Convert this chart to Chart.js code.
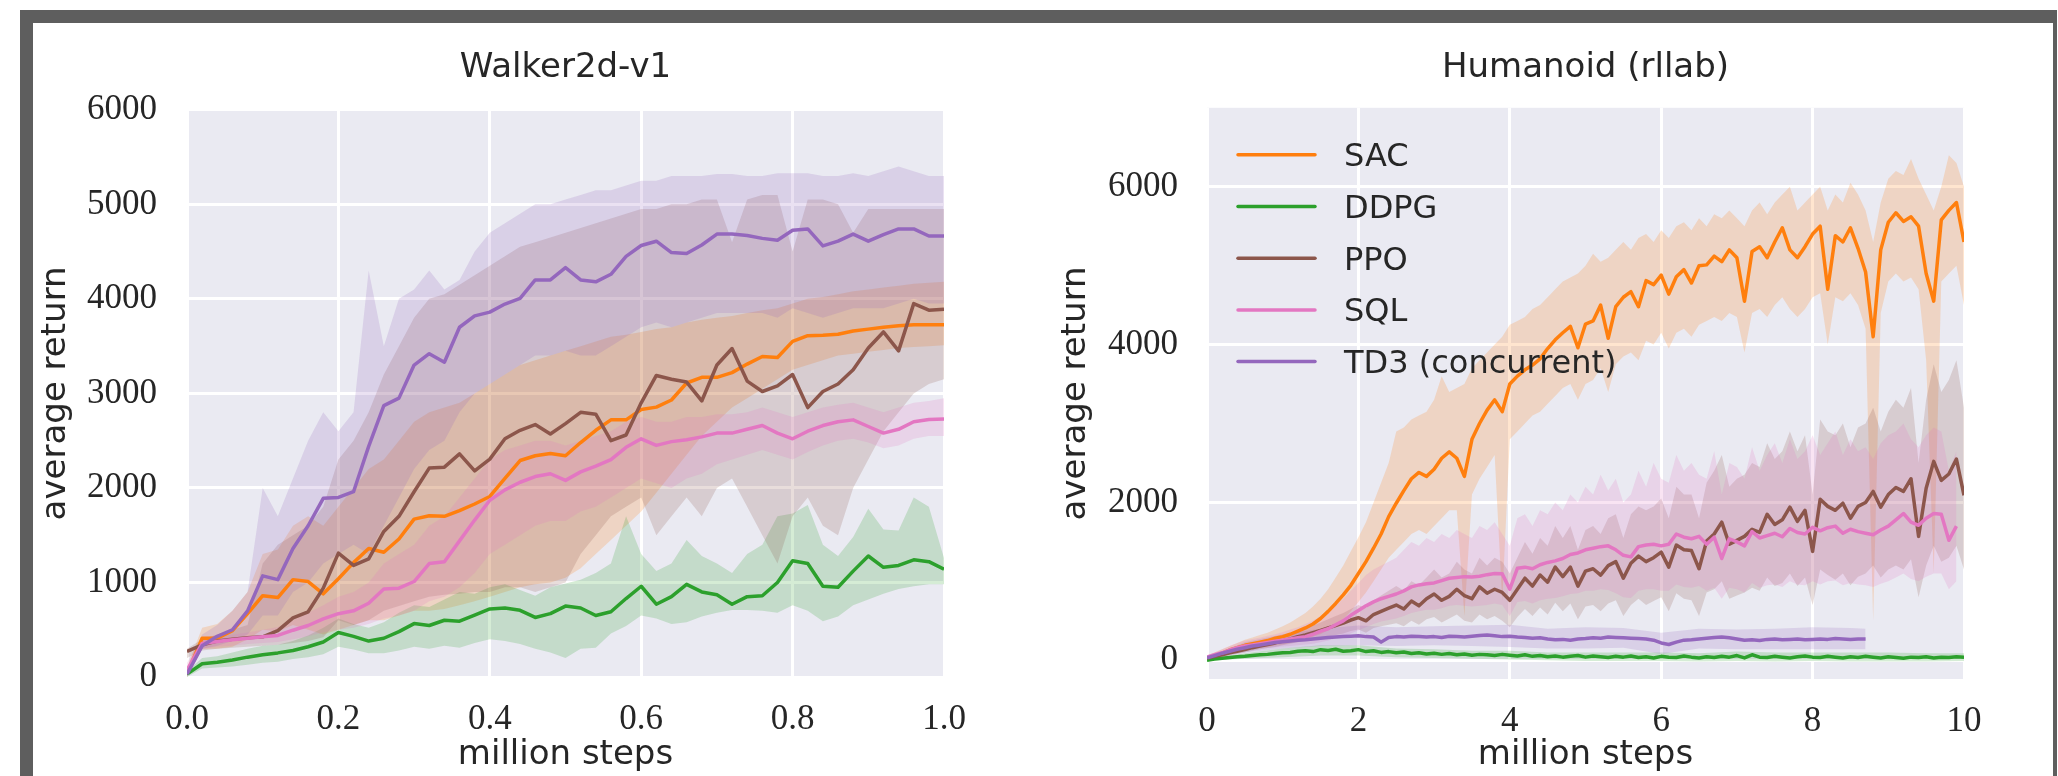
<!DOCTYPE html>
<html>
<head>
<meta charset="utf-8">
<script src="https://cdn.jsdelivr.net/npm/chart.js@4.4.0/dist/chart.umd.min.js"></script>
<style>
  body { margin: 0; background: #fff; width: 2058px; height: 776px; overflow: hidden; position: relative; }
  #frame { position: absolute; left: 20px; top: 10px; width: 2020px; height: 800px;
           border-left: 13px solid #5e5e5e; border-top: 13px solid #5e5e5e; border-right: 4px solid #5e5e5e; }
  .box { position: absolute; top: 23px; height: 753px; }
</style>
</head>
<body>
<div id="frame"></div>
<div class="box" style="left:33px;width:997px"><canvas id="walker"></canvas></div>
<div class="box" style="left:1030px;width:1023px"><canvas id="humanoid"></canvas></div>
<script>
// ---- Walker2d-v1 (million steps) ----
const walkerSteps = [0,0.02,0.04,0.06,0.08,0.1,0.12,0.14,0.16,0.18,0.2,0.22,0.24,0.26,0.28,0.3,0.32,0.34,0.36,0.38,0.4,0.42,0.44,0.46,0.48,0.5,0.52,0.54,0.56,0.58,0.6,0.62,0.64,0.66,0.68,0.7,0.72,0.74,0.76,0.78,0.8,0.82,0.84,0.86,0.88,0.9,0.92,0.94,0.96,0.98,1.0];
const walkerXTicks = [0, 0.2, 0.4, 0.6, 0.8, 1.0];
const walkerYTicks = [0, 1000, 2000, 3000, 4000, 5000, 6000];

const walkerSAC   = [30,410,410,490,670,860,840,1030,1010,880,1040,1210,1360,1320,1460,1670,1705,1700,1760,1830,1910,2100,2290,2340,2365,2340,2480,2610,2720,2720,2830,2855,2930,3110,3170,3170,3220,3310,3390,3380,3550,3610,3615,3625,3660,3680,3700,3715,3725,3725,3725];
const walkerSACHi = [100,520,560,700,900,1300,1350,1600,1700,1600,1800,2000,2200,2300,2500,2700,2800,2850,2900,3000,3100,3200,3300,3350,3400,3450,3500,3550,3600,3620,3650,3680,3700,3750,3780,3800,3820,3850,3880,3900,3950,4000,4020,4050,4080,4100,4120,4140,4160,4170,4180];
const walkerSACLo = [0,300,300,320,400,500,480,550,500,450,500,550,600,600,650,700,700,720,760,800,850,900,950,980,1000,1050,1150,1300,1450,1600,1750,1950,2150,2350,2550,2700,2850,2950,3050,3150,3250,3300,3350,3400,3420,3440,3460,3480,3490,3500,3510];

const walkerDDPG   = [30,140,155,180,210,235,255,280,320,370,470,430,380,410,480,565,545,600,590,655,720,730,705,630,670,750,730,650,690,830,960,770,850,980,900,870,770,850,860,1000,1230,1200,960,950,1120,1280,1160,1180,1240,1220,1140];
const walkerDDPGHi = [60,200,220,260,300,330,340,380,440,520,620,560,520,580,680,760,740,820,900,880,950,980,920,860,950,990,1030,1100,1200,1700,1300,1120,1200,1450,1280,1200,1100,1300,1400,1700,1730,1820,1400,1280,1480,1780,1560,1550,1900,1800,1260];
const walkerDDPGLo = [0,90,100,110,130,150,160,190,210,240,320,290,250,250,280,320,300,330,310,360,400,380,350,300,260,200,300,310,460,540,650,620,560,580,640,680,710,710,700,680,760,700,590,640,760,820,880,930,960,980,980];

const walkerPPO   = [270,340,380,400,415,425,490,625,690,940,1310,1180,1250,1540,1700,1960,2210,2220,2360,2180,2305,2520,2610,2670,2570,2680,2800,2780,2500,2560,2900,3190,3150,3120,2920,3300,3475,3130,3020,3080,3200,2850,3020,3100,3250,3480,3650,3450,3950,3880,3890];
const walkerPPOHi = [300,400,450,500,550,1200,1400,1500,1600,1800,2300,2500,2800,3200,3500,3800,4000,4050,4150,4250,4350,4450,4550,4600,4650,4700,4750,4800,4850,4900,4950,4950,5000,5000,5050,5050,4600,5050,5100,5100,4500,5050,5050,5000,4700,4950,4950,4950,4950,4950,4950];
const walkerPPOLo = [200,280,300,310,320,330,340,360,380,420,600,550,600,700,750,800,850,870,880,900,900,950,950,900,950,1000,1300,1500,1700,1800,1900,1500,1700,1900,1700,2000,2100,1800,1500,1200,1700,1900,1600,1500,2000,2300,2600,2800,3000,3100,3150];

const walkerSQL   = [70,355,375,395,410,425,440,495,545,615,670,700,780,930,940,1010,1200,1220,1440,1660,1870,1980,2060,2120,2150,2080,2170,2230,2300,2430,2520,2450,2490,2510,2540,2580,2580,2620,2660,2580,2520,2600,2660,2700,2720,2650,2580,2620,2700,2725,2730];
const walkerSQLHi = [150,420,440,450,470,500,530,600,680,760,850,900,1000,1200,1300,1400,1600,1700,1900,2100,2300,2400,2450,2500,2500,2450,2500,2550,2600,2700,2750,2700,2700,2750,2750,2780,2780,2800,2850,2800,2750,2800,2850,2880,2900,2850,2800,2850,2900,2920,2950];
const walkerSQLLo = [0,300,320,330,350,360,370,400,430,470,500,520,560,620,650,700,800,850,950,1100,1300,1400,1500,1600,1650,1650,1750,1800,1900,2000,2100,2050,2000,2100,2150,2250,2300,2350,2400,2350,2300,2380,2450,2500,2520,2480,2420,2450,2520,2550,2550];

const walkerTD3   = [30,330,430,500,700,1070,1030,1360,1600,1890,1900,1960,2440,2870,2950,3300,3420,3330,3700,3820,3860,3945,4005,4200,4200,4330,4200,4180,4260,4450,4565,4610,4490,4480,4570,4685,4685,4670,4640,4620,4725,4740,4560,4610,4685,4610,4680,4740,4740,4665,4665];
const walkerTD3Hi = [100,450,550,700,900,2000,1700,2100,2500,2800,2600,2800,4300,3500,4000,4100,4300,4100,4200,4500,4700,4800,4900,5000,5000,5050,5100,5150,5150,5200,5250,5250,5300,5300,5300,5320,5320,5300,5300,5330,5330,5330,5300,5300,5330,5300,5350,5400,5350,5300,5300];
const walkerTD3Lo = [0,300,330,380,450,650,650,900,1000,1200,1300,1400,1300,1600,1900,2200,2400,2500,2800,3000,3100,3200,3300,3400,3400,3450,3400,3400,3500,3600,3700,3750,3700,3750,3800,3850,3850,3850,3850,3800,3900,3850,3800,3850,3900,3900,3900,3950,4000,3950,3950];

// ---- Humanoid (rllab) (million steps) ----
const humanoidSteps = [0,0.1,0.2,0.3,0.4,0.5,0.6,0.7,0.8,0.9,1,1.1,1.2,1.3,1.4,1.5,1.6,1.7,1.8,1.9,2,2.1,2.2,2.3,2.4,2.5,2.6,2.7,2.8,2.9,3,3.1,3.2,3.3,3.4,3.5,3.6,3.7,3.8,3.9,4,4.1,4.2,4.3,4.4,4.5,4.6,4.7,4.8,4.9,5,5.1,5.2,5.3,5.4,5.5,5.6,5.7,5.8,5.9,6,6.1,6.2,6.3,6.4,6.5,6.6,6.7,6.8,6.9,7,7.1,7.2,7.3,7.4,7.5,7.6,7.7,7.8,7.9,8,8.1,8.2,8.3,8.4,8.5,8.6,8.7,8.8,8.9,9,9.1,9.2,9.3,9.4,9.5,9.6,9.7,9.8,9.9,10];
const humanoidXTicks = [0, 2, 4, 6, 8, 10];
const humanoidYTicks = [0, 2000, 4000, 6000];

const humanoidSAC = [30,60,90,130,160,190,210,230,250,280,300,330,370,410,460,530,620,720,830,950,1100,1250,1420,1600,1820,1990,2150,2300,2380,2330,2420,2560,2640,2560,2330,2800,3000,3170,3300,3150,3500,3600,3680,3740,3820,3950,4060,4150,4230,3960,4260,4300,4500,4080,4480,4600,4670,4480,4810,4760,4880,4640,4860,4950,4780,5000,5010,5120,5050,5200,5100,4550,5180,5240,5100,5300,5480,5200,5100,5240,5400,5500,4700,5380,5300,5480,5220,4920,4100,5200,5550,5670,5560,5620,5500,4900,4550,5580,5700,5800,5300];
const humanoidSACHi = [60,100,140,180,220,260,290,320,350,390,430,480,540,600,680,780,900,1050,1200,1380,1560,1750,2000,2250,2500,2900,2950,3050,3100,3150,3300,3600,3400,3450,3500,3700,3800,3900,4000,4100,4250,4300,4350,4450,4500,4600,4700,4800,4850,4900,5000,5150,5050,5100,5200,5300,5200,5350,5400,5300,5450,5350,5500,5550,5450,5600,5500,5650,5600,5700,5600,5500,5700,5800,5650,5800,5900,6000,5700,5800,5900,6000,5700,5900,5800,6050,5900,5700,5300,5800,6100,6200,6150,6350,6100,5900,5700,6000,6400,6300,6000];
const humanoidSACLo = [0,30,60,90,110,130,150,160,170,190,200,220,240,270,300,330,380,440,520,620,740,860,1000,1150,1300,1400,1500,1600,1650,1600,1700,1800,1900,1900,560,2100,2300,2450,2600,750,2800,2900,3000,3100,3150,3250,3350,3450,3500,3300,3500,3550,3700,3400,3750,3850,3900,3800,4050,4000,4150,3950,4150,4200,4100,4250,4300,4350,4300,4400,4350,3900,4400,4450,4350,4500,4600,4450,4350,4450,4600,4650,4000,4600,4550,4650,4500,4200,500,4400,4800,4900,4800,4850,4700,3800,1100,4800,4900,5000,4500];

const humanoidDDPG = [0,15,25,35,45,50,60,70,75,85,95,100,115,120,110,135,125,140,115,120,135,110,120,100,110,95,105,85,95,80,90,75,85,70,80,65,75,70,60,75,65,55,70,50,60,45,55,40,50,60,40,55,45,35,50,40,55,35,45,30,50,40,35,55,40,30,45,35,50,40,60,30,70,40,35,50,40,30,45,55,40,35,50,40,30,45,35,50,40,30,45,35,25,40,35,45,30,40,35,45,40];
const ddpgBandSteps = [0,0.5,1,1.5,2,2.5,3,3.5,4,4.5,5,5.5,6,6.5,7,7.5,8,8.5,9,9.5,10];
const humanoidDDPGHi = [10,90,150,190,190,150,140,120,120,100,100,100,100,90,110,100,100,100,100,90,90];
const humanoidDDPGLo = [-5,20,40,60,60,40,30,20,10,0,-10,-10,-10,-15,-10,-15,-10,-15,-15,-15,-10];

const humanoidPPO = [30,50,70,95,115,135,160,180,200,220,245,270,300,320,350,380,410,440,470,510,540,500,580,620,660,700,650,750,690,780,840,760,810,900,820,780,930,850,900,860,760,900,1040,940,1080,990,1180,1060,1180,940,1130,1160,1080,1200,1250,1040,1230,1320,1250,1300,1370,1180,1460,1400,1390,1160,1510,1600,1750,1470,1520,1570,1660,1620,1850,1720,1780,1940,1760,1900,1380,2040,1950,1900,1990,1800,1950,2000,2140,1940,2100,2190,2140,2300,1570,2180,2520,2280,2360,2550,2090];
const humanoidPPOHi = [50,80,100,130,150,170,200,220,250,270,300,330,370,400,440,480,520,560,600,650,700,660,760,820,880,940,880,1000,950,1050,1150,1050,1100,1250,1150,1100,1300,1200,1300,1250,1100,1300,1500,1350,1550,1450,1700,1550,1700,1400,1650,1700,1600,1800,1850,1550,1850,1950,1900,1950,2050,1800,2200,2100,2100,1800,2250,2400,2600,2200,2300,2350,2500,2450,2750,2550,2650,2900,2650,2850,2100,3050,2900,2850,3000,2700,2950,3000,3200,2900,3150,3300,3200,3450,2500,3300,3750,3400,3550,3800,3200];
const humanoidPPOLo = [15,25,40,60,80,100,120,140,155,170,190,210,230,245,265,285,300,320,340,370,390,350,410,430,450,470,430,500,450,520,550,480,530,580,500,480,580,520,560,500,420,550,650,560,670,580,730,620,720,520,680,700,620,720,760,560,700,780,700,750,800,620,850,780,760,560,860,900,1000,780,820,860,920,880,1050,940,980,1100,940,1050,700,1150,1080,1020,1100,950,1060,1100,1200,1050,1150,1200,1150,1280,800,1200,1450,1250,1300,1450,1150];

const humanoidSQL = [40,70,95,130,160,180,195,210,225,240,255,270,285,300,330,370,400,450,500,570,630,690,740,780,810,840,880,930,955,970,980,1010,1040,1050,1060,1055,1065,1085,1100,1095,900,1165,1180,1160,1210,1240,1260,1290,1340,1360,1400,1420,1440,1450,1400,1330,1310,1440,1460,1470,1450,1470,1600,1560,1540,1570,1470,1560,1290,1540,1500,1450,1630,1550,1580,1610,1565,1670,1620,1600,1685,1640,1680,1700,1610,1660,1630,1610,1590,1650,1700,1780,1860,1750,1710,1800,1860,1850,1520,1700];
const humanoidSQLHi = [60,100,140,180,220,250,270,290,310,330,360,390,420,460,500,560,620,700,780,880,980,1080,1150,1200,1250,1300,1400,1500,1450,1550,1500,1600,1550,1650,1600,1550,1700,1650,1750,1600,1450,1800,1850,1700,1900,1850,2000,1900,2100,2000,2200,2100,2350,2150,2300,2000,2100,2400,2200,2500,2300,2250,2600,2400,2500,2350,2300,2650,2100,2500,2450,2300,2700,2400,2600,2750,2500,2800,2550,2650,2850,2600,2750,2900,2600,2800,2650,2700,2550,2750,2850,2900,3000,2800,2700,2850,2950,2900,2400,2650];
const humanoidSQLLo = [20,45,65,90,110,125,135,145,155,165,175,180,190,200,210,230,250,280,300,340,380,420,460,490,510,530,560,600,620,640,640,660,690,700,690,680,690,700,720,700,560,740,750,720,760,780,790,810,840,850,880,880,900,890,850,800,790,880,900,900,880,880,960,930,920,940,880,920,780,920,900,860,980,920,950,960,930,1000,960,950,1000,960,1000,1010,950,980,960,950,930,970,1000,1050,1100,1030,1000,1060,1100,1100,900,1000];

const humanoidTD3 = [30,60,90,115,140,160,180,195,210,225,235,245,255,260,270,280,290,295,300,305,310,300,295,230,290,300,295,305,300,295,300,290,305,300,295,305,315,320,310,300,305,295,290,280,285,270,260,265,255,270,275,285,280,295,290,285,280,275,270,255,220,200,230,255,260,270,280,290,295,285,270,255,260,250,265,270,260,265,270,260,265,270,265,275,270,265,270,270];
const td3BandSteps = [0,0.5,1,1.5,2,2.5,3,3.5,4,4.5,5,5.5,6,6.5,7,7.5,8,8.5,8.7];
const humanoidTD3Hi = [40,230,330,400,440,420,430,440,450,400,420,410,350,400,390,400,420,410,400];
const humanoidTD3Lo = [20,100,150,180,190,180,190,180,170,150,150,160,80,150,140,140,140,140,140];

const legendNames = { SAC: 'SAC', DDPG: 'DDPG', PPO: 'PPO', SQL: 'SQL', TD3: 'TD3 (concurrent)' };

const ink = '#262626';
const tickFont = { family: "'Liberation Serif', serif", size: 35 };
const labelFont = { family: "'DejaVu Sans', sans-serif", size: 34, weight: 'normal' };
const colors = { SAC: '255,127,14', DDPG: '44,160,44', PPO: '140,86,75', SQL: '227,119,194', TD3: '148,103,189' };

const pts = (xs, ys) => ys.map((y, i) => ({ x: xs[i], y }));

function line(name, xs, ys, order) {
  return { label: legendNames[name], data: pts(xs, ys), borderColor: 'rgb(' + colors[name] + ')', borderWidth: 3.5,
           pointRadius: 0, fill: false, tension: 0, borderJoinStyle: 'round', order };
}

function band(name, xs, hi, lo, order) {
  return [
    { band: true, data: pts(xs, hi), borderWidth: 0, pointRadius: 0, tension: 0,
      backgroundColor: 'rgba(' + colors[name] + ',0.2)', fill: '+1', order },
    { band: true, data: pts(xs, lo), borderWidth: 0, pointRadius: 0, tension: 0, fill: false, order }
  ];
}

const plotBg = {
  id: 'plotBg',
  beforeDraw(chart) {
    const { ctx, chartArea: a } = chart;
    ctx.save();
    ctx.fillStyle = '#eaeaf2';
    ctx.fillRect(a.left, a.top, a.right - a.left, a.bottom - a.top);
    ctx.restore();
  }
};

// legend drawn inside the plot, top left
const innerLegend = {
  id: 'innerLegend',
  afterDatasetsDraw(chart) {
    const { ctx, chartArea: a } = chart;
    const items = chart.data.datasets.filter(d => !d.band);
    ctx.save();
    ctx.font = "32px 'DejaVu Sans', sans-serif";
    ctx.textBaseline = 'alphabetic';
    items.forEach((d, i) => {
      const y = a.top + 47 + i * 51.7;
      ctx.strokeStyle = d.borderColor;
      ctx.lineWidth = 3.5;
      ctx.lineCap = 'round';
      ctx.beginPath();
      ctx.moveTo(a.left + 31, y);
      ctx.lineTo(a.left + 108, y);
      ctx.stroke();
      ctx.fillStyle = ink;
      ctx.fillText(d.label, a.left + 137, y + 11.5);
    });
    ctx.restore();
  }
};

function makeChart(id, c) {
  const grid = { color: '#ffffff', lineWidth: 3, drawTicks: false };
  return new Chart(document.getElementById(id), {
    type: 'line',
    data: { datasets: c.datasets },
    options: {
      responsive: true,
      maintainAspectRatio: false,
      animation: false,
      devicePixelRatio: 1,
      layout: { padding: { left: 0, right: c.padRight, top: 0, bottom: 0 } },
      plugins: {
        legend: { display: false },
        tooltip: { enabled: false },
        title: { display: true, text: c.title, fullSize: false, color: ink, font: labelFont,
                 padding: { top: 25, bottom: c.titleGap } }
      },
      scales: {
        x: {
          type: 'linear', min: c.xMin, max: c.xMax,
          afterBuildTicks: s => { s.ticks = c.xTicks.map(v => ({ value: v })); },
          afterFit: s => { s.height = c.xAxisHeight; },
          grid, border: { display: false },
          ticks: { padding: 22, font: tickFont, color: ink, maxRotation: 0, autoSkip: false, callback: c.xFormat },
          title: { display: true, text: 'million steps', font: labelFont, color: ink, padding: { top: 0, bottom: 0 } }
        },
        y: {
          min: c.yMin, max: c.yMax,
          afterBuildTicks: s => { s.ticks = c.yTicks.map(v => ({ value: v })); },
          afterFit: s => { s.width = c.yAxisWidth; },
          grid, border: { display: false },
          ticks: { padding: c.yTickPad, font: tickFont, color: ink, autoSkip: false, callback: v => String(v) },
          title: { display: true, text: 'average return', font: labelFont, color: ink, padding: { top: c.yTitlePad, bottom: 0 } }
        }
      }
    },
    plugins: c.plugins
  });
}

makeChart('walker', {
  title: 'Walker2d-v1',
  datasets: [
    ...band('SAC', walkerSteps, walkerSACHi, walkerSACLo, 15),
    ...band('DDPG', walkerSteps, walkerDDPGHi, walkerDDPGLo, 14),
    ...band('PPO', walkerSteps, walkerPPOHi, walkerPPOLo, 13),
    ...band('SQL', walkerSteps, walkerSQLHi, walkerSQLLo, 12),
    ...band('TD3', walkerSteps, walkerTD3Hi, walkerTD3Lo, 11),
    line('SAC', walkerSteps, walkerSAC, 5),
    line('DDPG', walkerSteps, walkerDDPG, 4),
    line('PPO', walkerSteps, walkerPPO, 3),
    line('SQL', walkerSteps, walkerSQL, 2),
    line('TD3', walkerSteps, walkerTD3, 1)
  ],
  xMin: 0, xMax: 1, xTicks: walkerXTicks, xFormat: v => Number(v).toFixed(1),
  yMin: 0, yMax: 6000, yTicks: walkerYTicks,
  padRight: 86, titleGap: 21, xAxisHeight: 99, yAxisWidth: 154, yTickPad: 30, yTitlePad: 3,
  plugins: [plotBg]
});

makeChart('humanoid', {
  title: 'Humanoid (rllab)',
  datasets: [
    ...band('SAC', humanoidSteps, humanoidSACHi, humanoidSACLo, 15),
    ...band('DDPG', ddpgBandSteps, humanoidDDPGHi, humanoidDDPGLo, 14),
    ...band('PPO', humanoidSteps, humanoidPPOHi, humanoidPPOLo, 13),
    ...band('SQL', humanoidSteps, humanoidSQLHi, humanoidSQLLo, 12),
    ...band('TD3', td3BandSteps, humanoidTD3Hi, humanoidTD3Lo, 11),
    line('SAC', humanoidSteps, humanoidSAC, 5),
    line('DDPG', humanoidSteps, humanoidDDPG, 4),
    line('PPO', humanoidSteps, humanoidPPO, 3),
    line('SQL', humanoidSteps, humanoidSQL, 2),
    line('TD3', humanoidSteps, humanoidTD3, 1)
  ],
  xMin: 0, xMax: 10, xTicks: humanoidXTicks, xFormat: v => String(v),
  yMin: -237, yMax: 7000, yTicks: humanoidYTicks,
  padRight: 89, titleGap: 19, xAxisHeight: 97, yAxisWidth: 177, yTickPad: 29, yTitlePad: 26,
  plugins: [plotBg, innerLegend]
});
</script>
</body>
</html>
